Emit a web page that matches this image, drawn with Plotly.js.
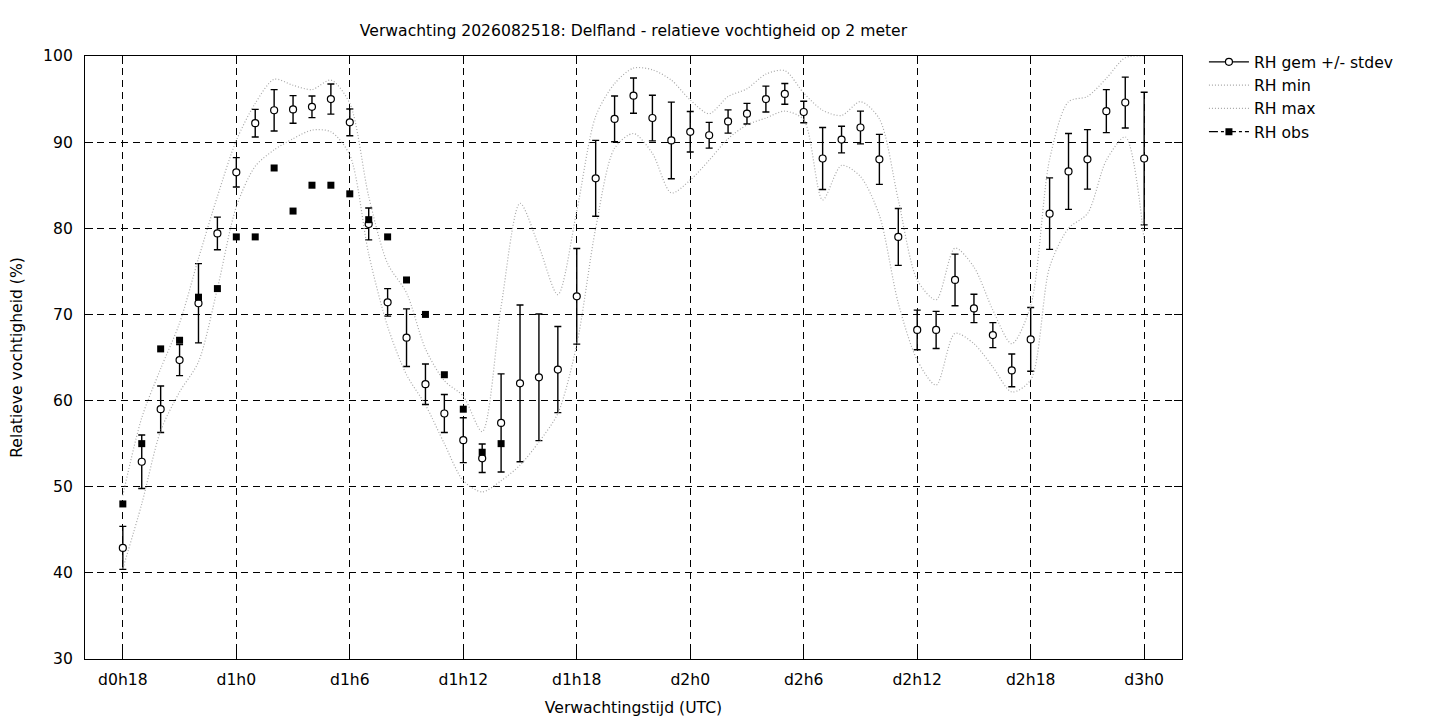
<!DOCTYPE html>
<html>
<head>
<meta charset="utf-8">
<script src="https://cdn.plot.ly/plotly-3.0.1.min.js"></script>
<style>
  html, body { margin: 0; padding: 0; background: #fff; }
  #grafiek { width: 1440px; height: 720px; }
</style>
</head>
<body>
<div id="grafiek"></div>
<script>
// leadtijd in uren vanaf d0h0
const uren = [18, 19, 20, 21, 22, 23, 24, 25, 26, 27, 28, 29, 30, 31, 32, 33, 34, 35, 36, 37,
              38, 39, 40, 41, 42, 43, 44, 45, 46, 47, 48, 49, 50, 51, 52, 53, 54, 55, 56, 57,
              58, 59, 60, 61, 62, 63, 64, 65, 66, 67, 68, 69, 70, 71, 72];

const rhGem = [42.9, 52.9, 59.0, 64.7, 71.3, 79.4, 86.5, 92.2, 93.7, 93.8, 94.1, 95.0, 92.3, 80.5, 71.4, 67.3, 61.9, 58.5, 55.4, 53.3,
               57.4, 62.0, 62.7, 63.6, 72.1, 85.8, 92.7, 95.4, 92.8, 90.2, 91.2, 90.8, 92.4, 93.3, 95.0, 95.6, 93.5, 88.1, 90.3, 91.7,
               88.0, 79.0, 68.2, 68.2, 74.0, 70.7, 67.6, 63.5, 67.1, 81.7, 86.6, 88.0, 93.6, 94.6, 88.1];

const rhStdev = [2.5, 3.1, 2.7, 1.8, 4.6, 1.9, 1.7, 1.6, 2.4, 1.6, 1.25, 1.75, 1.55, 1.85, 1.6, 3.35, 2.35, 2.2, 2.6, 1.65,
                 5.7, 9.1, 7.35, 5.0, 5.55, 4.4, 2.65, 2.05, 2.65, 4.45, 2.35, 1.5, 1.35, 1.2, 1.5, 1.2, 1.25, 3.6, 1.55, 1.9,
                 2.9, 3.3, 2.3, 2.15, 3.0, 1.65, 1.45, 1.9, 3.7, 4.15, 4.4, 3.45, 2.5, 2.95, 7.7];

const rhMin = [40.5, 48.0, 56.5, 61.0, 64.5, 73.0, 82.5, 87.2, 89.1, 90.4, 91.4, 91.2, 88.5, 77.0, 68.6, 63.0, 59.5, 55.0, 50.7, 49.4,
               50.7, 52.5, 55.2, 58.5, 66.5, 80.0, 89.3, 91.0, 88.7, 84.1, 85.6, 87.9, 90.4, 92.0, 92.8, 93.6, 92.6, 83.3, 87.3, 86.0,
               81.5, 71.3, 64.7, 61.8, 67.8, 66.6, 63.9, 61.0, 62.4, 75.5, 80.0, 81.7, 87.9, 90.6, 78.6];

const rhMax = [49.0, 58.0, 63.7, 69.0, 76.5, 83.7, 90.2, 94.5, 97.3, 96.6, 96.1, 97.2, 94.5, 83.7, 75.9, 72.5, 66.0, 62.3, 60.5, 56.4,
               70.9, 82.9, 77.9, 72.3, 82.0, 93.0, 96.8, 98.6, 98.4, 97.2, 94.9, 93.3, 95.3, 96.2, 97.9, 98.3, 95.7, 93.7, 93.1, 94.7,
               92.7, 83.3, 74.0, 71.7, 77.7, 75.5, 70.5, 66.6, 71.0, 88.0, 94.7, 95.3, 97.4, 99.8, 100];

// waarnemingen tot nu toe
const obsUren = [18, 19, 20, 21, 22, 23, 24, 25, 26, 27, 28, 29, 30, 31, 32, 33, 34, 35, 36, 37, 38];
const rhObs = [48, 55, 66, 67, 72, 73, 79, 79, 87, 82, 85, 85, 84, 81, 79, 74, 70, 63, 59, 54, 55];

const tickUren = [18, 24, 30, 36, 42, 48, 54, 60, 66, 72];
const tickLabels = ["d0h18", "d1h0", "d1h6", "d1h12", "d1h18", "d2h0", "d2h6", "d2h12", "d2h18", "d3h0"];

// losse punten met een gat ertussen: geen lijn in de grafiek, wel een lijntje in de legenda
function losse(arr) {
    const out = [];
    arr.forEach(function (v) { out.push(v, null); });
    return out;
}

const font = "DejaVu Sans, Arial, sans-serif";
const fs = 15.6;

const traces = [
    {
        name: "RH gem +/- stdev",
        x: losse(uren),
        y: losse(rhGem),
        mode: "lines+markers",
        connectgaps: false,
        line: { color: "black", width: 1.2 },
        marker: { symbol: "circle", size: 7, color: "white", line: { color: "black", width: 1.2 } },
        error_y: { type: "data", array: losse(rhStdev), visible: true, color: "black", thickness: 1.4, width: 3.5 }
    },
    {
        name: "RH min",
        x: uren,
        y: rhMin,
        mode: "lines",
        line: { color: "#a8a8a8", width: 1.2, dash: "1px,2px", shape: "spline", smoothing: 0.8 }
    },
    {
        name: "RH max",
        x: uren,
        y: rhMax,
        mode: "lines",
        line: { color: "#a8a8a8", width: 1.2, dash: "1px,2px", shape: "spline", smoothing: 0.8 }
    },
    {
        name: "RH obs",
        x: losse(obsUren),
        y: losse(rhObs),
        mode: "lines+markers",
        connectgaps: false,
        line: { color: "black", width: 1.2, dash: "dashdot" },
        marker: { symbol: "square", size: 7, color: "black" }
    }
];

const assen = {
    showline: true,
    mirror: "allticks",
    linecolor: "black",
    linewidth: 1,
    ticks: "inside",
    ticklen: 8,
    tickcolor: "black",
    showgrid: true,
    gridcolor: "black",
    gridwidth: 1,
    griddash: "7px,5px",
    zeroline: false,
    tickfont: { family: font, size: fs, color: "black" }
};

const layout = {
    width: 1440,
    height: 720,
    paper_bgcolor: "white",
    plot_bgcolor: "white",
    font: { family: font, size: fs, color: "black" },
    margin: { l: 85, r: 258, t: 56, b: 61 },
    title: {
        text: "Verwachting 2026082518: Delfland - relatieve vochtigheid op 2 meter",
        font: { family: font, size: fs, color: "black" },
        x: 0.5, xref: "paper", xanchor: "center",
        y: 0.958, yref: "container", yanchor: "middle"
    },
    xaxis: Object.assign({}, assen, {
        range: [16, 74],
        tickvals: tickUren,
        ticktext: tickLabels,
        ticklabelstandoff: 6,
        title: { text: "Verwachtingstijd (UTC)", font: { family: font, size: fs }, standoff: 14 }
    }),
    yaxis: Object.assign({}, assen, {
        range: [30, 100],
        dtick: 10,
        ticklabelstandoff: 8,
        title: { text: "Relatieve vochtigheid (%)", font: { family: font, size: fs }, standoff: 16 }
    }),
    showlegend: true,
    legend: {
        x: 1.02, xanchor: "left",
        y: 1.018, yanchor: "top",
        bgcolor: "rgba(0,0,0,0)",
        font: { family: font, size: fs, color: "black" },
        tracegroupgap: 0,
        itemwidth: 40
    }
};

Plotly.newPlot("grafiek", traces, layout, { staticPlot: true });
</script>
</body>
</html>
